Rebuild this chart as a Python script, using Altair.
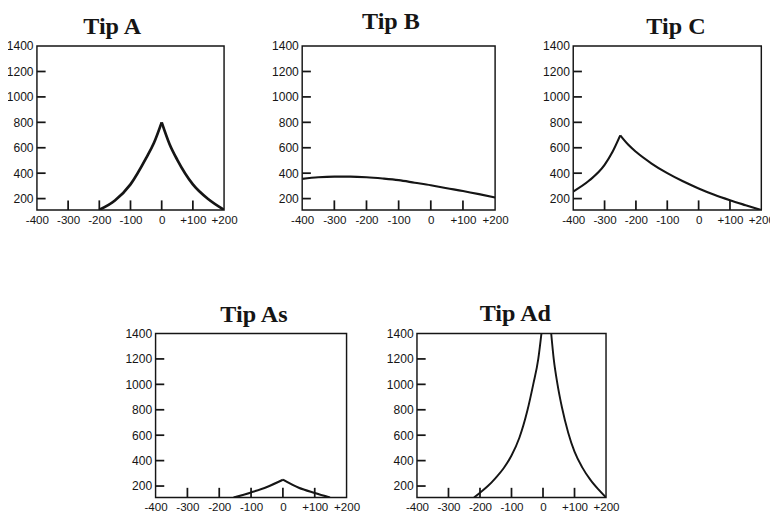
import altair as alt
import pandas as pd

# ---- data ----
# Tip A
a_left_x = [-200, -150, -100, -50, -25, 0]
a_left_y = [112, 185, 312, 518, 637, 800]
a_right_x = [0, 25, 50, 100, 150, 200]
a_right_y = [800, 630, 505, 312, 195, 112]

# Tip B
b_x = [-400, -350, -300, -250, -200, -150, -100, -50, 0, 50, 100, 150, 200]
b_y = [355, 368, 373, 373, 368, 358, 345, 325, 305, 282, 260, 235, 208]

# Tip C
c_left_x = [-400, -350, -300, -275, -250]
c_left_y = [256, 340, 465, 566, 697]
c_right_x = [-250, -225, -200, -150, -100, -50, 0, 50, 100, 150, 200]
c_right_y = [697, 625, 568, 476, 400, 336, 280, 230, 187, 148, 110]

# Tip As
as_left_x = [-155, -100, -50, 0]
as_left_y = [110, 150, 193, 250]
as_right_x = [0, 50, 100, 148]
as_right_y = [250, 186, 145, 110]

# Tip Ad
ad_left_x = [-219, -200, -175, -150, -125, -100, -75, -50, -31, -15, -5]
ad_left_y = [110, 148, 200, 265, 340, 440, 580, 790, 1000, 1200, 1400]
ad_right_x = [26, 34, 46, 60, 80, 100, 125, 150, 175, 200]
ad_right_y = [1400, 1200, 1000, 820, 620, 470, 345, 250, 175, 110]

x_label_values = [-400, -300, -200, -100, 0, 100, 200]
y_label_values = [200, 400, 600, 800, 1000, 1200, 1400]
x_inner_ticks = [-300, -200, -100, 0, 100]
y_inner_ticks = [200, 400, 600, 800, 1000, 1200]

X_DOMAIN = [-400, 200]
Y_DOMAIN = [110, 1400]
H = 170
INK = "#151515"


def branches(*pairs):
    frames = []
    for i, (xs, ys) in enumerate(pairs):
        frames.append(pd.DataFrame({"x": xs, "y": ys, "branch": i}))
    return pd.concat(frames, ignore_index=True)


def x_axis():
    return alt.Axis(
        values=x_label_values, ticks=False, domain=False, grid=False, title=None,
        labelExpr="datum.value > 0 ? '+' + datum.value : '' + datum.value",
        labelPadding=5, labelFlush=False, labelOverlap=False,
        labelFont="Liberation Sans", labelFontSize=12, labelColor=INK)


def y_axis():
    return alt.Axis(
        values=y_label_values, ticks=False, domain=False, grid=False, title=None,
        format="d", labelPadding=4, labelFlush=False, labelOverlap=False,
        labelFont="Liberation Sans", labelFontSize=12.5, labelColor=INK)


def panel(name, df, width, dx, offset, sw):
    xs = alt.Scale(domain=X_DOMAIN, nice=False, zero=False)
    ys = alt.Scale(domain=Y_DOMAIN, nice=False, zero=False)
    line = alt.Chart(df).mark_line(
        color=INK, strokeWidth=sw, interpolate="monotone", clip=True
    ).encode(
        x=alt.X("x:Q", scale=xs, axis=x_axis()),
        y=alt.Y("y:Q", scale=ys, axis=y_axis()),
        detail="branch:N",
    )
    xt = alt.Chart(pd.DataFrame({"x": x_inner_ticks})).mark_rule(
        color=INK, strokeWidth=1.8
    ).encode(
        x=alt.X("x:Q", scale=xs, axis=x_axis()),
        y=alt.value(H),
        y2=alt.value(H - 10),
    )
    yt = alt.Chart(pd.DataFrame({"y": y_inner_ticks})).mark_rule(
        color=INK, strokeWidth=1.8
    ).encode(
        y=alt.Y("y:Q", scale=ys, axis=y_axis()),
        x=alt.value(0),
        x2=alt.value(9),
    )
    return alt.layer(line, xt, yt).properties(
        width=width, height=H,
        view=alt.ViewBackground(stroke=INK, strokeWidth=1.5),
        title=alt.TitleParams(
            name, font="Liberation Serif", fontSize=25, fontWeight="bold",
            color=INK, anchor="middle", dx=dx, offset=offset),
    )


pA = panel("Tip A", branches((a_left_x, a_left_y), (a_right_x, a_right_y)), 194, -19, 1, 2.8)
pB = panel("Tip B", branches((b_x, b_y)), 200, -8, 7, 2.2)
pC = panel("Tip C", branches((c_left_x, c_left_y), (c_right_x, c_right_y)), 195, 9, 2, 2.2)
pAs = panel("Tip As", branches((as_left_x, as_left_y), (as_right_x, as_right_y)), 198, 3, 1, 2.2)
pAd = panel("Tip Ad", branches((ad_left_x, ad_left_y), (ad_right_x, ad_right_y)), 196, 4, 2, 2.0)

spacer = alt.Chart(pd.DataFrame({"v": [0]})).mark_point(opacity=0).encode(
    x=alt.X("v:Q", axis=None), y=alt.Y("v:Q", axis=None)
).properties(width=64, height=H, view=alt.ViewBackground(stroke="transparent"))

top = alt.hconcat(pA, pB, pC, spacing=33)
bottom = alt.hconcat(spacer, pAs, pAd, spacing=25)

chart = alt.vconcat(top, bottom, spacing=77).properties(
    padding={"left": -3, "top": -9, "right": -6, "bottom": 0}
).configure(background="white")

chart.save("out.html", embed_options={"renderer": "svg", "actions": False})
